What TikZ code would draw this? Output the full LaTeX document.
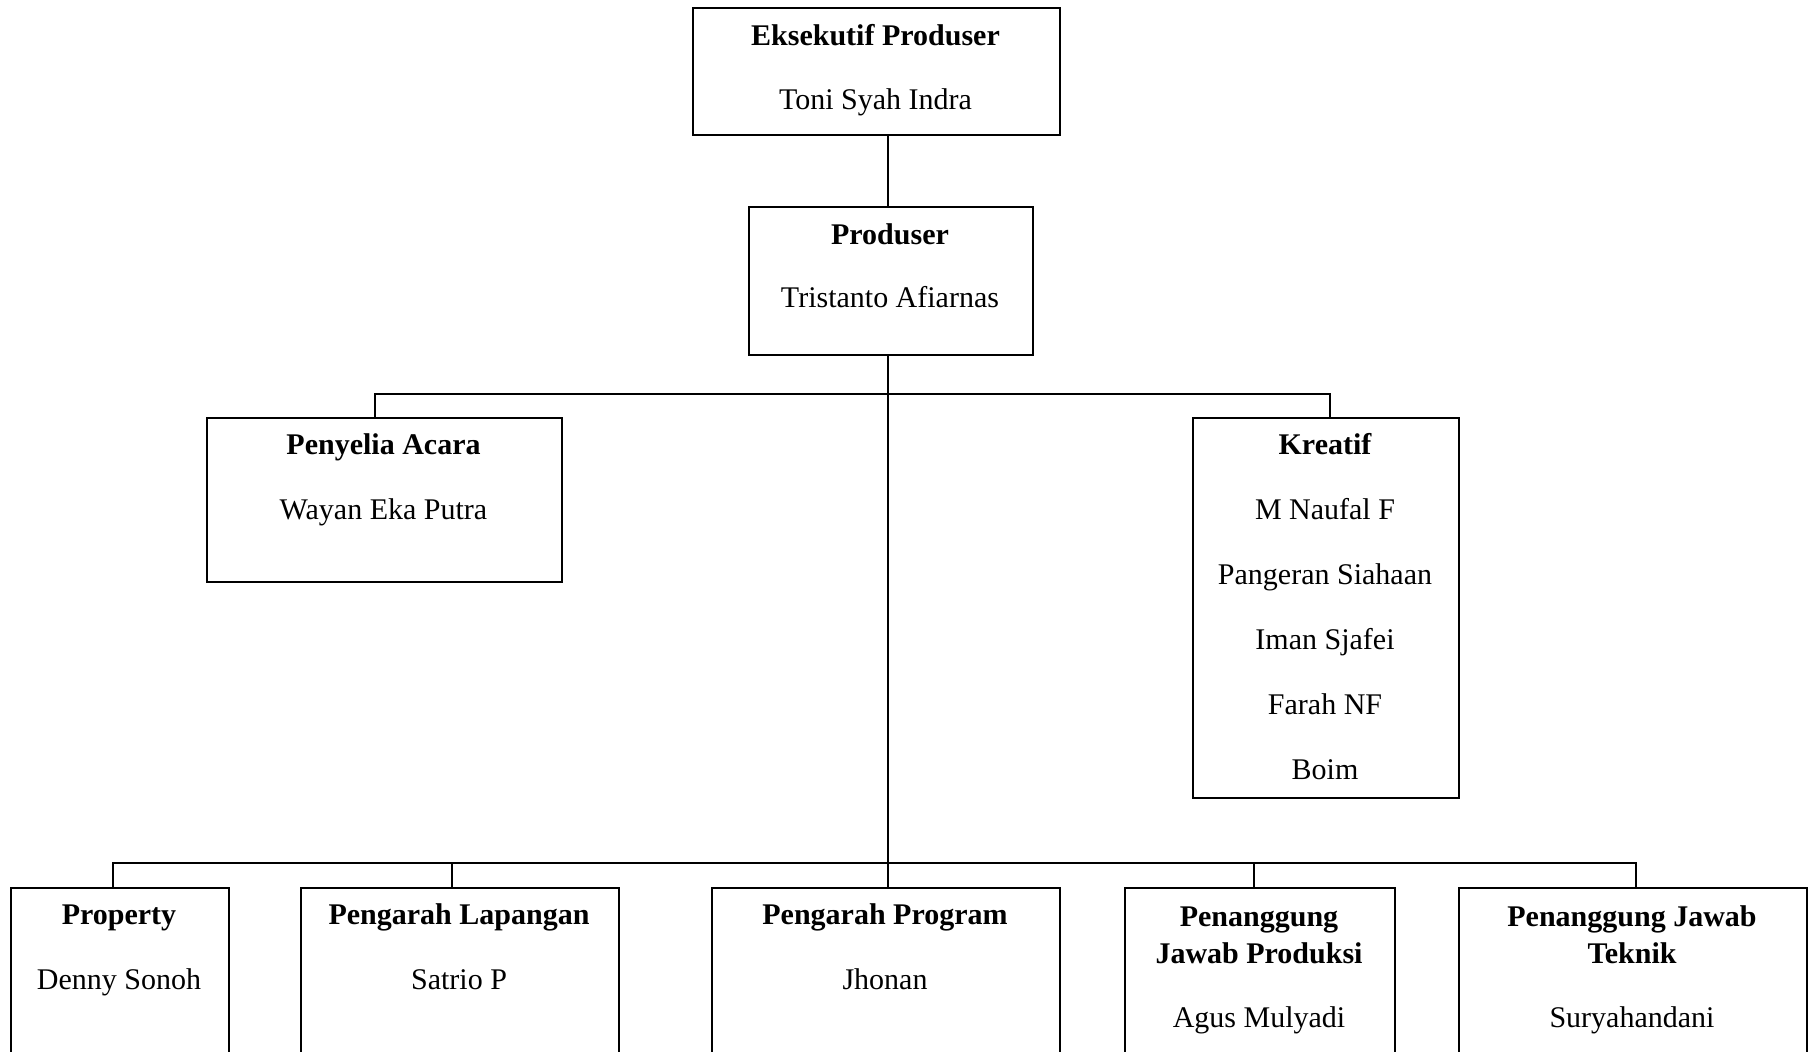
\documentclass[tikz,border=0pt]{standalone}
\usepackage{fontspec}
\setmainfont{Liberation Serif}
\begin{document}
\begin{tikzpicture}[x=0.5pt,y=-0.5pt,
  box/.style={draw,line width=1pt,anchor=north west,inner sep=0pt,minimum width=#1},
  ttl/.style={anchor=base,inner sep=0pt,font=\fontsize{15}{18}\selectfont\bfseries},
  nm/.style={anchor=base,inner sep=0pt,font=\fontsize{15}{18}\selectfont},
  conn/.style={line width=1pt}]
\useasboundingbox (0,0) rectangle (1814,1051);
\fill[white] (0,0) rectangle (1814,1051);
\clip (0,0) rectangle (1814,1051);
% boxes
\node[box=183.5pt,minimum height=63.5pt] (eks) at (692,7) {};
\node[box=142pt,minimum height=74pt] (prod) at (748,206) {};
\node[box=177.5pt,minimum height=82pt] (pen) at (206,417) {};
\node[box=133pt,minimum height=190pt] (kre) at (1192,417) {};
\node[box=109pt,minimum height=117pt] (propb) at (10,887) {};
\node[box=159pt,minimum height=117pt] (lap) at (300,887) {};
\node[box=174pt,minimum height=117pt] (prog) at (711,887) {};
\node[box=135pt,minimum height=117pt] (pjp) at (1124,887) {};
\node[box=174pt,minimum height=117pt] (pjt) at (1458,887) {};
% texts
\node[ttl] (t1) at (875.5,45) {Eksekutif Produser};
\node[nm] (n1) at (875.5,109) {Toni Syah Indra};
\node[ttl] (t2) at (890,244) {Produser};
\node[nm] (n2) at (890,307) {Tristanto Afiarnas};
\node[ttl] (t3) at (383.5,454) {Penyelia Acara};
\node[nm] (n3) at (383.5,519) {Wayan Eka Putra};
\node[ttl] (t4) at (1325,454) {Kreatif};
\node[nm] (n4a) at (1325,519) {M Naufal F};
\node[nm] (n4b) at (1325,584) {Pangeran Siahaan};
\node[nm] (n4c) at (1325,649) {Iman Sjafei};
\node[nm] (n4d) at (1325,714) {Farah NF};
\node[nm] (n4e) at (1325,779) {Boim};
\node[ttl] (t5) at (119,924) {Property};
\node[nm] (n5) at (119,989) {Denny Sonoh};
\node[ttl] (t6) at (459,924) {Pengarah Lapangan};
\node[nm] (n6) at (459,989) {Satrio P};
\node[ttl] (t7) at (885,924) {Pengarah Program};
\node[nm] (n7) at (885,989) {Jhonan};
\node[ttl] (t8a) at (1259,926) {Penanggung};
\node[ttl] (t8b) at (1259,963) {Jawab Produksi};
\node[nm] (n8) at (1259,1027) {Agus Mulyadi};
\node[ttl] (t9a) at (1632,926) {Penanggung Jawab};
\node[ttl] (t9b) at (1632,963) {Teknik};
\node[nm] (n9) at (1632,1027) {Suryahandani};
% bus coordinates
\coordinate (sA) at (888,134);
\coordinate (sB) at (888,206);
\coordinate (sC) at (888,354);
\coordinate (u1) at (375,394);
\coordinate (u2) at (1330,394);
\coordinate (l1) at (113,863);
\coordinate (l2) at (452,863);
\coordinate (l3) at (888,863);
\coordinate (l4) at (1254,863);
\coordinate (l5) at (1636,863);
% connectors
\draw[conn] (sA) -- (sB);
\draw[conn] (sC) -- (l3 |- prog.north);
\draw[conn] (u1 |- pen.north) -- (u1) -- (u2) -- (u2 |- kre.north);
\draw[conn] (l1 |- propb.north) -- (l1) -- (l5) -- (l5 |- pjt.north);
\draw[conn] (l2) -- (l2 |- lap.north);
\draw[conn] (l4) -- (l4 |- pjp.north);
\end{tikzpicture}
\end{document}
